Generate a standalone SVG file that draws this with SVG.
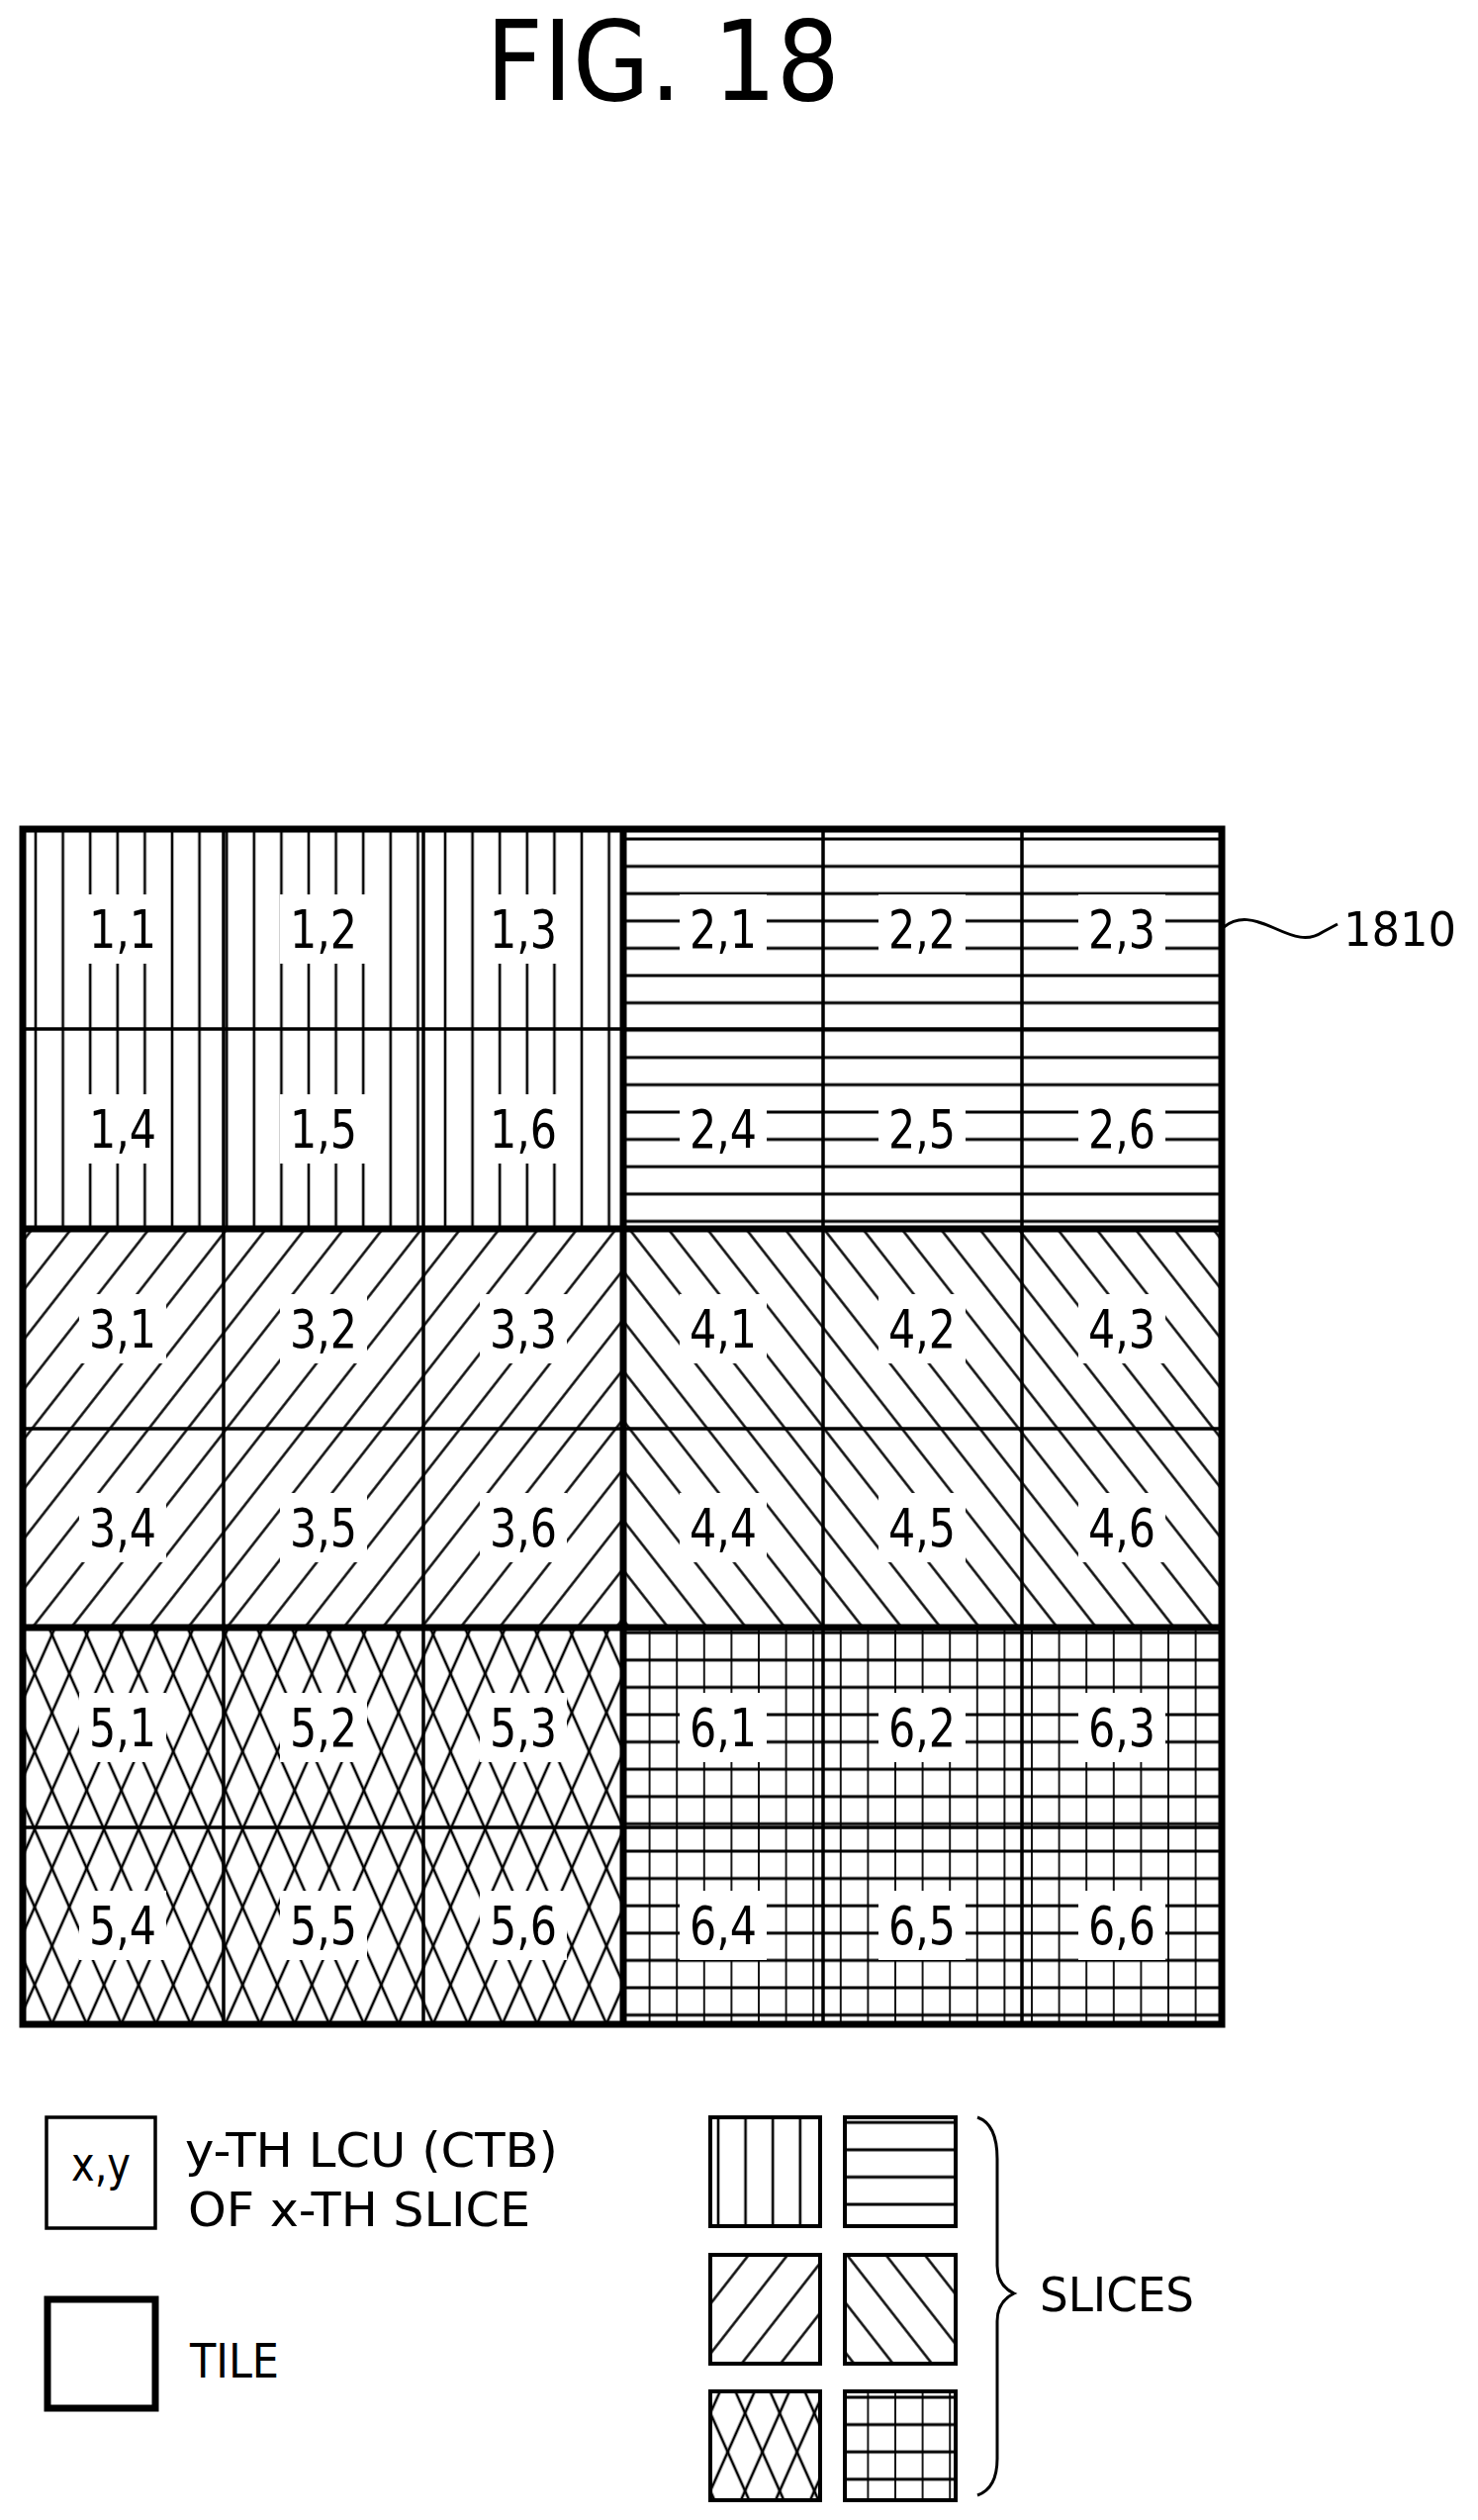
<svg xmlns="http://www.w3.org/2000/svg" width="1494" height="2547" viewBox="0 0 1494 2547">
<style>
.lbl{font-family:"DejaVu Sans Condensed","DejaVu Sans",sans-serif;font-size:54px;text-anchor:middle;fill:#000}
.txt{font-family:"DejaVu Sans Condensed","DejaVu Sans",sans-serif;font-size:48px;fill:#000}
.thin{stroke:#000;stroke-width:3.5;fill:none}
.thick{stroke:#000;stroke-width:7;fill:none}
.wb{fill:#fff}
</style>
<defs>
<pattern id="pv" patternUnits="userSpaceOnUse" x="22.2" y="0" width="27.6" height="20"><line x1="13.8" y1="0" x2="13.8" y2="20" stroke="#000" stroke-width="2.6"/></pattern>
<pattern id="ph" patternUnits="userSpaceOnUse" x="0" y="6.2" width="20" height="27.6"><line x1="0" y1="13.8" x2="20" y2="13.8" stroke="#000" stroke-width="3"/></pattern>
<pattern id="pd1" patternUnits="userSpaceOnUse" width="31" height="20" patternTransform="rotate(38)"><line x1="15.5" y1="0" x2="15.5" y2="20" stroke="#000" stroke-width="2.4"/></pattern>
<pattern id="pd2" patternUnits="userSpaceOnUse" width="31" height="20" patternTransform="rotate(-38)"><line x1="15.5" y1="0" x2="15.5" y2="20" stroke="#000" stroke-width="2.4"/></pattern>
<pattern id="pxa" patternUnits="userSpaceOnUse" width="32" height="20" patternTransform="rotate(24)"><line x1="16" y1="0" x2="16" y2="20" stroke="#000" stroke-width="2.6"/></pattern>
<pattern id="pxb" patternUnits="userSpaceOnUse" width="32" height="20" patternTransform="rotate(-24)"><line x1="16" y1="0" x2="16" y2="20" stroke="#000" stroke-width="2.6"/></pattern>
<pattern id="pg" patternUnits="userSpaceOnUse" x="8" y="8" width="27.6" height="27.6"><line x1="13.8" y1="0" x2="13.8" y2="27.6" stroke="#000" stroke-width="1.8"/><line x1="0" y1="13.8" x2="27.6" y2="13.8" stroke="#000" stroke-width="3"/></pattern>
</defs>

<text x="670" y="101" font-family="'DejaVu Sans Condensed','DejaVu Sans',sans-serif" font-size="112" text-anchor="middle">FIG. 18</text>

<g id="hatching">
<rect x="23" y="838" width="607" height="404" fill="url(#pv)"/>
<rect x="630" y="838" width="605" height="404" fill="url(#ph)"/>
<rect x="23" y="1242" width="607" height="403" fill="url(#pd1)"/>
<rect x="630" y="1242" width="605" height="403" fill="url(#pd2)"/>
<rect x="23" y="1645" width="607" height="401" fill="url(#pxa)"/>
<rect x="23" y="1645" width="607" height="401" fill="url(#pxb)"/>
<rect x="630" y="1645" width="605" height="401" fill="url(#pg)"/>
</g>

<g id="label-backs" class="wb">
<rect x="80" y="904" width="88" height="70"/><rect x="283" y="904" width="88" height="70"/><rect x="485" y="904" width="88" height="70"/>
<rect x="687" y="904" width="88" height="70"/><rect x="888" y="904" width="88" height="70"/><rect x="1090" y="904" width="88" height="70"/>
<rect x="80" y="1106" width="88" height="70"/><rect x="283" y="1106" width="88" height="70"/><rect x="485" y="1106" width="88" height="70"/>
<rect x="687" y="1106" width="88" height="70"/><rect x="888" y="1106" width="88" height="70"/><rect x="1090" y="1106" width="88" height="70"/>
<rect x="80" y="1308" width="88" height="70"/><rect x="283" y="1308" width="88" height="70"/><rect x="485" y="1308" width="88" height="70"/>
<rect x="687" y="1308" width="88" height="70"/><rect x="888" y="1308" width="88" height="70"/><rect x="1090" y="1308" width="88" height="70"/>
<rect x="80" y="1509" width="88" height="70"/><rect x="283" y="1509" width="88" height="70"/><rect x="485" y="1509" width="88" height="70"/>
<rect x="687" y="1509" width="88" height="70"/><rect x="888" y="1509" width="88" height="70"/><rect x="1090" y="1509" width="88" height="70"/>
<rect x="80" y="1711" width="88" height="70"/><rect x="283" y="1711" width="88" height="70"/><rect x="485" y="1711" width="88" height="70"/>
<rect x="687" y="1711" width="88" height="70"/><rect x="888" y="1711" width="88" height="70"/><rect x="1090" y="1711" width="88" height="70"/>
<rect x="80" y="1911" width="88" height="70"/><rect x="283" y="1911" width="88" height="70"/><rect x="485" y="1911" width="88" height="70"/>
<rect x="687" y="1911" width="88" height="70"/><rect x="888" y="1911" width="88" height="70"/><rect x="1090" y="1911" width="88" height="70"/>
</g>

<g id="grid">
<path class="thin" d="M226 838V2046M428 838V2046M832 838V2046M1033 838V2046M23 1040H1235M23 1444H1235M23 1847H1235"/>
<path class="thick" d="M630 838V2046M23 1242H1235M23 1645H1235"/>
<rect class="thick" x="23" y="838" width="1212" height="1208"/>
</g>

<g id="labels" class="lbl">
<text x="124" y="958" textLength="68" lengthAdjust="spacingAndGlyphs">1,1</text><text x="327" y="958" textLength="68" lengthAdjust="spacingAndGlyphs">1,2</text><text x="529" y="958" textLength="68" lengthAdjust="spacingAndGlyphs">1,3</text>
<text x="731" y="958" textLength="68" lengthAdjust="spacingAndGlyphs">2,1</text><text x="932" y="958" textLength="68" lengthAdjust="spacingAndGlyphs">2,2</text><text x="1134" y="958" textLength="68" lengthAdjust="spacingAndGlyphs">2,3</text>
<text x="124" y="1160" textLength="68" lengthAdjust="spacingAndGlyphs">1,4</text><text x="327" y="1160" textLength="68" lengthAdjust="spacingAndGlyphs">1,5</text><text x="529" y="1160" textLength="68" lengthAdjust="spacingAndGlyphs">1,6</text>
<text x="731" y="1160" textLength="68" lengthAdjust="spacingAndGlyphs">2,4</text><text x="932" y="1160" textLength="68" lengthAdjust="spacingAndGlyphs">2,5</text><text x="1134" y="1160" textLength="68" lengthAdjust="spacingAndGlyphs">2,6</text>
<text x="124" y="1362" textLength="68" lengthAdjust="spacingAndGlyphs">3,1</text><text x="327" y="1362" textLength="68" lengthAdjust="spacingAndGlyphs">3,2</text><text x="529" y="1362" textLength="68" lengthAdjust="spacingAndGlyphs">3,3</text>
<text x="731" y="1362" textLength="68" lengthAdjust="spacingAndGlyphs">4,1</text><text x="932" y="1362" textLength="68" lengthAdjust="spacingAndGlyphs">4,2</text><text x="1134" y="1362" textLength="68" lengthAdjust="spacingAndGlyphs">4,3</text>
<text x="124" y="1563" textLength="68" lengthAdjust="spacingAndGlyphs">3,4</text><text x="327" y="1563" textLength="68" lengthAdjust="spacingAndGlyphs">3,5</text><text x="529" y="1563" textLength="68" lengthAdjust="spacingAndGlyphs">3,6</text>
<text x="731" y="1563" textLength="68" lengthAdjust="spacingAndGlyphs">4,4</text><text x="932" y="1563" textLength="68" lengthAdjust="spacingAndGlyphs">4,5</text><text x="1134" y="1563" textLength="68" lengthAdjust="spacingAndGlyphs">4,6</text>
<text x="124" y="1765" textLength="68" lengthAdjust="spacingAndGlyphs">5,1</text><text x="327" y="1765" textLength="68" lengthAdjust="spacingAndGlyphs">5,2</text><text x="529" y="1765" textLength="68" lengthAdjust="spacingAndGlyphs">5,3</text>
<text x="731" y="1765" textLength="68" lengthAdjust="spacingAndGlyphs">6,1</text><text x="932" y="1765" textLength="68" lengthAdjust="spacingAndGlyphs">6,2</text><text x="1134" y="1765" textLength="68" lengthAdjust="spacingAndGlyphs">6,3</text>
<text x="124" y="1965" textLength="68" lengthAdjust="spacingAndGlyphs">5,4</text><text x="327" y="1965" textLength="68" lengthAdjust="spacingAndGlyphs">5,5</text><text x="529" y="1965" textLength="68" lengthAdjust="spacingAndGlyphs">5,6</text>
<text x="731" y="1965" textLength="68" lengthAdjust="spacingAndGlyphs">6,4</text><text x="932" y="1965" textLength="68" lengthAdjust="spacingAndGlyphs">6,5</text><text x="1134" y="1965" textLength="68" lengthAdjust="spacingAndGlyphs">6,6</text>
</g>

<g id="ref-1810">
<path d="M1237 937 C1252 925 1268 929 1288 938 S1322 952 1337 942 L1352 934" fill="none" stroke="#000" stroke-width="3"/>
<text class="txt" x="1358" y="956" font-size="52" textLength="114" lengthAdjust="spacingAndGlyphs">1810</text>
</g>

<g id="legend-lcu">
<rect class="thin" x="47" y="2140" width="110" height="112"/>
<text class="txt" x="102" y="2204" text-anchor="middle" textLength="60" lengthAdjust="spacingAndGlyphs">x,y</text>
<text class="txt" x="187" y="2190" textLength="377" lengthAdjust="spacingAndGlyphs">y-TH LCU (CTB)</text>
<text class="txt" x="190" y="2250" textLength="346" lengthAdjust="spacingAndGlyphs">OF x-TH SLICE</text>
</g>

<g id="legend-tile">
<rect class="thick" x="48" y="2324" width="109" height="110"/>
<text class="txt" x="192" y="2403" textLength="90" lengthAdjust="spacingAndGlyphs">TILE</text>
</g>

<g id="legend-slices">
<rect x="718" y="2140" width="111" height="110" fill="url(#pv)" stroke="#000" stroke-width="4"/>
<rect x="854" y="2140" width="112" height="110" fill="url(#ph)" stroke="#000" stroke-width="4"/>
<rect x="718" y="2279" width="111" height="110" fill="url(#pd1)" stroke="#000" stroke-width="4"/>
<rect x="854" y="2279" width="112" height="110" fill="url(#pd2)" stroke="#000" stroke-width="4"/>
<rect x="718" y="2417" width="111" height="110" fill="url(#pxa)"/>
<rect x="718" y="2417" width="111" height="110" fill="url(#pxb)" stroke="#000" stroke-width="4"/>
<rect x="854" y="2417" width="112" height="110" fill="url(#pg)" stroke="#000" stroke-width="4"/>
<path d="M988 2140 Q1008 2147 1008 2182 L1008 2290 Q1008 2310 1025 2318 Q1008 2326 1008 2346 L1008 2485 Q1008 2515 988 2522" fill="none" stroke="#000" stroke-width="3"/>
<text class="txt" x="1051" y="2336" textLength="156" lengthAdjust="spacingAndGlyphs">SLICES</text>
</g>
</svg>
